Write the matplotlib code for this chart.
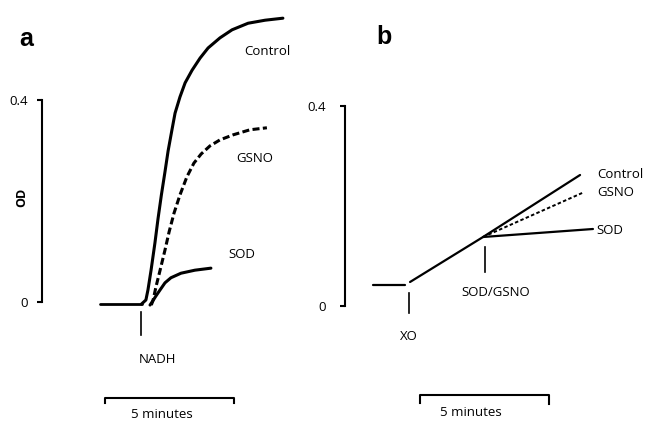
import matplotlib
matplotlib.use("Agg")
import matplotlib.pyplot as plt

# ---- panel a: OD vs time (min), NADH added at t = 0 ----
a_base_t = [-1.59, 0.02]
a_base_od = [-0.004, -0.004]

a_ctrl_t = [0.02, 0.19, 0.27, 0.39, 0.54, 0.66, 0.79, 0.93, 1.05, 1.20, 1.32, 1.51, 1.71,
            1.98, 2.29, 2.60, 3.06, 3.53, 4.15, 4.81, 5.50]
a_ctrl_od = [-0.004, 0.004, 0.024, 0.063, 0.117, 0.165, 0.212, 0.258, 0.299, 0.341, 0.374,
             0.406, 0.434, 0.459, 0.483, 0.503, 0.523, 0.539, 0.552, 0.558, 0.562]

a_gsno_t = [0.40, 0.47, 0.58, 0.74, 0.93, 1.09, 1.28, 1.51, 1.78, 2.05, 2.33, 2.67, 3.06,
            3.57, 4.22, 4.88]
a_gsno_od = [-0.006, 0.004, 0.030, 0.063, 0.103, 0.139, 0.176, 0.212, 0.248, 0.275, 0.293,
             0.309, 0.321, 0.331, 0.341, 0.345]

a_sod_t = [0.35, 0.43, 0.58, 0.74, 0.93, 1.16, 1.55, 2.09, 2.71]
a_sod_od = [-0.006, 0.000, 0.012, 0.024, 0.038, 0.048, 0.057, 0.063, 0.067]

# ---- panel b: OD vs time (min), XO added at t = 0 ----
b_base_t = [-1.40, -0.16]
b_base_od = [0.042, 0.042]
b_ctrl_t = [0.04, 2.87, 6.63]
b_ctrl_od = [0.048, 0.138, 0.262]
b_gsno_t = [2.87, 6.71]
b_gsno_od = [0.138, 0.226]
b_sod_t = [2.87, 7.13]
b_sod_od = [0.138, 0.154]

nadh_t = 0.0
xo_t = 0.0
sod_gsno_t = 2.95
scale_len = 5.0  # minutes
yticks = [0, 0.4]
yticklabels = ["0", "0.4"]

W, H = 646, 425
fig = plt.figure(figsize=(W / 100, H / 100), dpi=100)
txt = dict(family="Open Sans", fontsize=9.5, color="black")
line = dict(color="black", solid_joinstyle="round", solid_capstyle="round")


def make_axes(x0, x1, t0_px, ppm, od0_px, ppo):
    # axes spanning pixel columns x0..x1, full height, linear mapping
    ax = fig.add_axes([x0 / W, 0, (x1 - x0) / W, 1])
    ax.set_xlim((x0 - t0_px) / ppm, (x1 - t0_px) / ppm)
    ax.set_ylim((od0_px - H) / ppo, od0_px / ppo)
    ax.patch.set_alpha(0)
    for s in ["top", "right", "bottom"]:
        ax.spines[s].set_visible(False)
    ax.xaxis.set_visible(False)
    return ax


# panel a
axa = make_axes(0, 320, 141, 25.8, 302, 505)
axa.spines["left"].set_position(("data", (42 - 141) / 25.8))
axa.spines["left"].set_bounds(0, 0.4)
axa.spines["left"].set_linewidth(1.5)
axa.set_yticks(yticks)
axa.set_yticklabels(yticklabels, **txt)
axa.tick_params(axis="y", direction="out", length=3.8, width=1.5, pad=6.5)
axa.plot(a_base_t, a_base_od, lw=2, **line)
axa.plot(a_ctrl_t, a_ctrl_od, lw=2.2, **line)
axa.plot(a_gsno_t, a_gsno_od, color="black", lw=2.2, dashes=(2.3, 1.1))
axa.plot(a_sod_t, a_sod_od, lw=2.2, **line)
axa.plot([nadh_t, nadh_t], [-0.020, -0.065], color="black", lw=1.2)
axa.text(nadh_t + 0.62, -0.114, "NADH", ha="center", va="center", **txt)
axa.text(4.9, 0.496, "Control", ha="center", va="center", **txt)
axa.text(4.4, 0.285, "GSNO", ha="center", va="center", **txt)
axa.text(3.9, 0.095, "SOD", ha="center", va="center", **txt)
sa = -1.40
axa.plot([sa, sa, sa + scale_len, sa + scale_len], [-0.200, -0.190, -0.190, -0.200], color="black", lw=1.5)
axa.text(0.82, -0.222, "5 minutes", ha="center", va="center", **txt)
axa.text(-4.45, 0.520, "a", ha="center", va="center", family="Liberation Sans",
         fontsize=18, fontweight="bold")
axa.text(-4.62, 0.207, "OD", ha="center", va="center", rotation=90, family="Open Sans",
         fontsize=9, fontweight="bold")

# panel b
axb = make_axes(320, 646, 409, 25.8, 306, 500)
axb.spines["left"].set_position(("data", (345 - 409) / 25.8))
axb.spines["left"].set_bounds(0, 0.4)
axb.spines["left"].set_linewidth(1.5)
axb.set_yticks(yticks)
axb.set_yticklabels(yticklabels, **txt)
axb.tick_params(axis="y", direction="out", length=3.8, width=1.5, pad=10)
axb.plot(b_base_t, b_base_od, lw=1.6, **line)
axb.plot(b_ctrl_t, b_ctrl_od, lw=1.6, **line)
axb.plot(b_gsno_t, b_gsno_od, color="black", lw=1.4, dashes=(1.8, 1.2))
axb.plot(b_sod_t, b_sod_od, lw=1.6, **line)
axb.plot([xo_t, xo_t], [0.026, -0.014], color="black", lw=1.2)
axb.plot([sod_gsno_t, sod_gsno_t], [0.118, 0.068], color="black", lw=1.2)
axb.text(xo_t, -0.062, "XO", ha="center", va="center", **txt)
axb.text(3.36, 0.028, "SOD/GSNO", ha="center", va="center", **txt)
axb.text(7.28, 0.264, "Control", ha="left", va="center", **txt)
axb.text(7.28, 0.228, "GSNO", ha="left", va="center", **txt)
axb.text(7.28, 0.152, "SOD", ha="left", va="center", **txt)
sb = 0.43
axb.plot([sb, sb, sb + scale_len, sb + scale_len], [-0.194, -0.178, -0.178, -0.196], color="black", lw=1.5)
axb.text(2.40, -0.212, "5 minutes", ha="center", va="center", **txt)
axb.text(-0.97, 0.538, "b", ha="center", va="center", family="Liberation Sans",
         fontsize=18, fontweight="bold")

fig.savefig("out.png", dpi=100)
